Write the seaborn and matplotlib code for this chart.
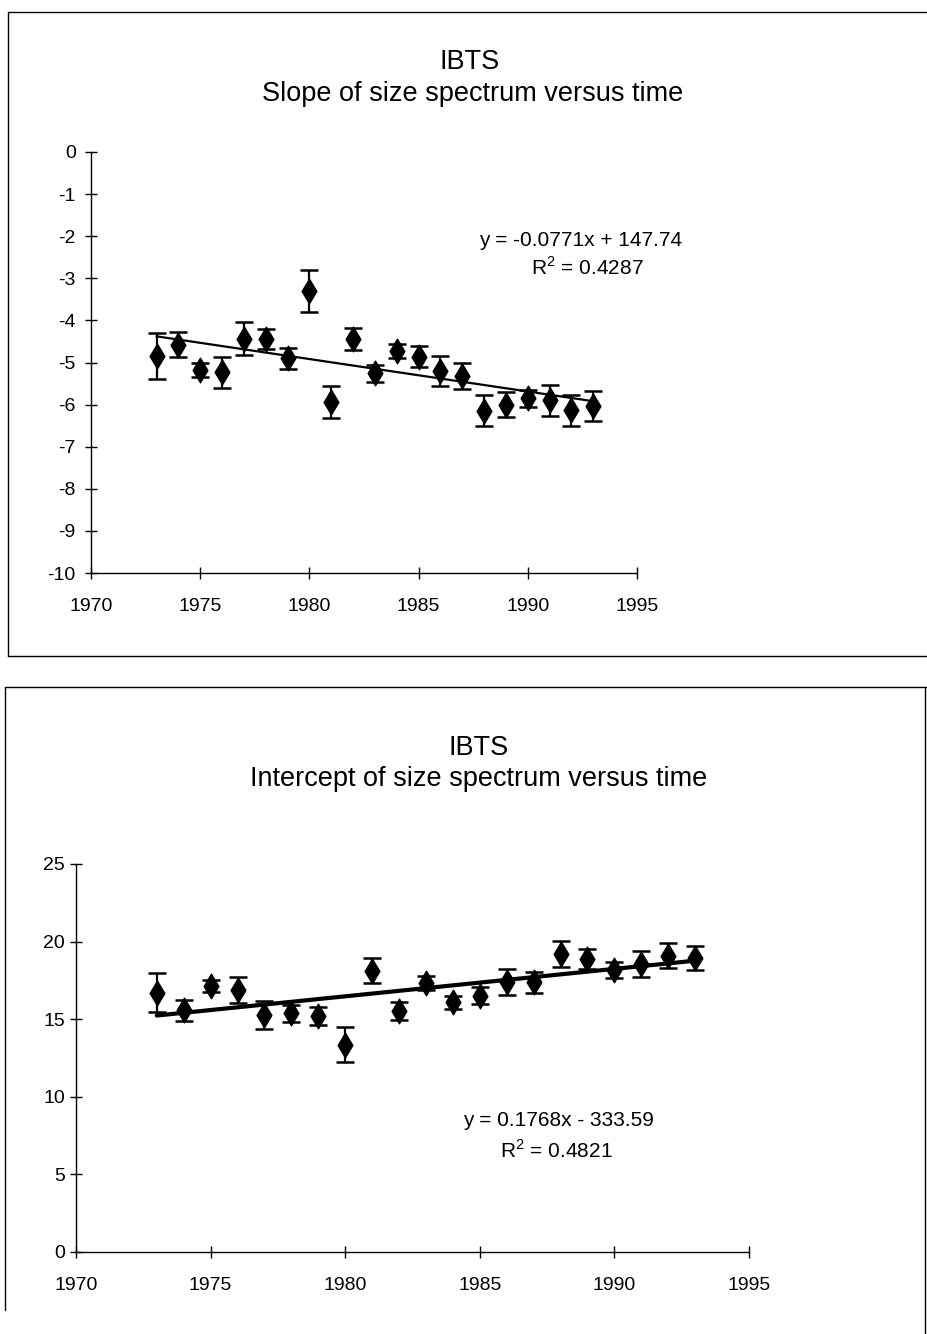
import matplotlib
matplotlib.use("Agg")
import matplotlib.pyplot as plt
from matplotlib.lines import Line2D
import numpy as np
import pandas as pd
import seaborn as sns

# ---------------- data ----------------
years = [1973, 1974, 1975, 1976, 1977, 1978, 1979, 1980, 1981, 1982, 1983,
         1984, 1985, 1986, 1987, 1988, 1989, 1990, 1991, 1992, 1993]

slope_vals = [-4.85, -4.58, -5.18, -5.23, -4.43, -4.44, -4.90, -3.30, -5.93, -4.45, -5.26,
              -4.73, -4.86, -5.21, -5.32, -6.15, -6.00, -5.85, -5.90, -6.14, -6.03]
slope_err = [0.55, 0.30, 0.17, 0.37, 0.40, 0.23, 0.25, 0.50, 0.38, 0.26, 0.21,
             0.17, 0.25, 0.36, 0.30, 0.37, 0.30, 0.20, 0.36, 0.36, 0.36]

icept_vals = [16.70, 15.58, 17.13, 16.88, 15.25, 15.39, 15.21, 13.36, 18.13, 15.55, 17.34,
              16.09, 16.52, 17.41, 17.38, 19.18, 18.88, 18.17, 18.54, 19.10, 18.94]
icept_err = [1.25, 0.67, 0.40, 0.83, 0.91, 0.54, 0.57, 1.13, 0.82, 0.59, 0.45,
             0.43, 0.54, 0.83, 0.69, 0.84, 0.64, 0.50, 0.84, 0.79, 0.75]

# trend line coefficients (as printed on the chart)
slope_fit = (-0.0771, 147.74)
icept_fit = (0.1768, -333.59)

slope_eq = ["y = -0.0771x + 147.74", "R$^2$ = 0.4287"]
icept_eq = ["y = 0.1768x - 333.59", "R$^2$ = 0.4821"]

xticks = [1970, 1975, 1980, 1985, 1990, 1995]
slope_yticks = list(range(-10, 1))
icept_yticks = [0, 5, 10, 15, 20, 25]

# ---------------- style ----------------
sns.set_theme(style="white")
plt.rcParams["font.family"] = ["Liberation Sans", "DejaVu Sans"]
plt.rcParams["axes.unicode_minus"] = False
plt.rcParams["mathtext.fontset"] = "custom"
plt.rcParams["mathtext.rm"] = "Liberation Sans"
plt.rcParams["text.color"] = "black"

W, H = 928, 1334
fig = plt.figure(figsize=(W / 100, H / 100), dpi=100)
fig.patch.set_facecolor("white")


def fx(px):
    return px / W


def fy(py):
    return 1 - py / H


def frame_line(x0, y0, x1, y1, lw=1.0):
    fig.add_artist(Line2D([fx(x0), fx(x1)], [fy(y0), fy(y1)], color="black",
                          lw=lw, transform=fig.transFigure))


# outer chart frames (scanned report boxes)
frame_line(8, 12, 928, 12)
frame_line(8, 12, 8, 656)
frame_line(8, 656, 928, 656)
frame_line(5, 687, 928, 687)
frame_line(5, 687, 5, 1310)
frame_line(925, 687, 925, 1334)

TICK_FS = 14
TITLE_FS = 19.5
EQ_FS = 15


def style_axes(ax, ypad, xpad):
    for s in ["top", "right"]:
        ax.spines[s].set_visible(False)
    for s in ["left", "bottom"]:
        ax.spines[s].set_color("black")
        ax.spines[s].set_linewidth(1.0)
    ax.set_facecolor("none")
    ax.tick_params(axis="both", which="major", direction="inout", length=8,
                   width=1, colors="black", labelcolor="black",
                   labelsize=TICK_FS, bottom=True, left=True,
                   top=False, right=False)
    ax.tick_params(axis="y", pad=ypad)
    ax.tick_params(axis="x", pad=xpad)
    ax.set_xlabel("")
    ax.set_ylabel("")


def draw_panel(ax, vals, errs, fit, lw_fit):
    df = pd.DataFrame({"year": years, "val": vals})
    ax.errorbar(years, vals, yerr=errs, fmt="none", ecolor="black",
                elinewidth=1.6, capsize=6.5, capthick=1.8, zorder=3)
    sns.scatterplot(data=df, x="year", y="val", marker="d", s=160,
                    color="black", edgecolor="black", linewidth=0.9,
                    ax=ax, zorder=4, legend=False)
    yrs = np.array([years[0], years[-1]], dtype=float)
    fit_df = pd.DataFrame({"year": yrs, "fit": fit[0] * yrs + fit[1]})
    sns.lineplot(data=fit_df, x="year", y="fit", color="black",
                 linewidth=lw_fit, ax=ax, zorder=5)


# ---------------- top panel ----------------
ax1 = fig.add_axes([fx(91), fy(573), (637 - 91) / W, (573 - 152) / H])
draw_panel(ax1, slope_vals, slope_err, slope_fit, 1.6)
ax1.set_xlim(1970, 1995)
ax1.set_ylim(-10, 0)
ax1.set_xticks(xticks)
ax1.set_yticks(slope_yticks)
style_axes(ax1, ypad=7, xpad=14)

fig.text(fx(470), fy(62), "IBTS", ha="center", va="center", fontsize=TITLE_FS)
fig.text(fx(473), fy(94), "Slope of size spectrum versus time",
         ha="center", va="center", fontsize=TITLE_FS)
fig.text(fx(581), fy(241), slope_eq[0], ha="center", va="center", fontsize=EQ_FS)
fig.text(fx(587), fy(268), slope_eq[1], ha="center", va="center", fontsize=EQ_FS)

# ---------------- bottom panel ----------------
ax2 = fig.add_axes([fx(76), fy(1252), (749 - 76) / W, (1252 - 864) / H])
draw_panel(ax2, icept_vals, icept_err, icept_fit, 3.0)
ax2.set_xlim(1970, 1995)
ax2.set_ylim(0, 25)
ax2.set_xticks(xticks)
ax2.set_yticks(icept_yticks)
style_axes(ax2, ypad=4, xpad=14)

fig.text(fx(479), fy(748), "IBTS", ha="center", va="center", fontsize=TITLE_FS)
fig.text(fx(479), fy(779), "Intercept of size spectrum versus time",
         ha="center", va="center", fontsize=TITLE_FS)
fig.text(fx(558), fy(1120), icept_eq[0], ha="center", va="center", fontsize=EQ_FS)
fig.text(fx(556), fy(1150), icept_eq[1], ha="center", va="center", fontsize=EQ_FS)

fig.savefig("out.png", dpi=100, facecolor="white")
